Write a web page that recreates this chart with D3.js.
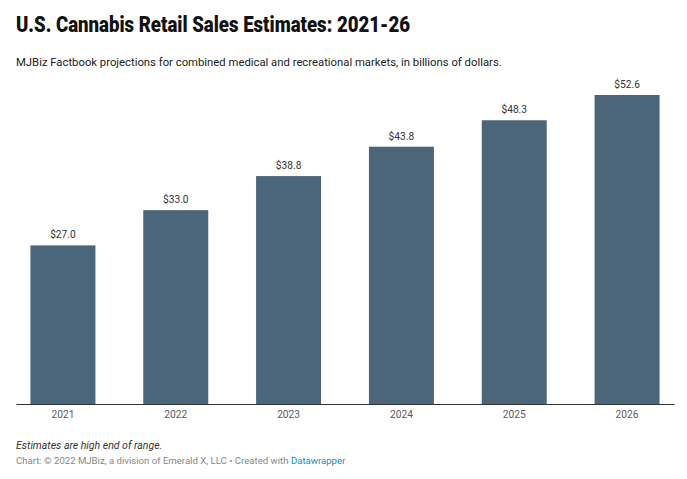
<!DOCTYPE html>
<html>
<head>
<meta charset="utf-8">
<script src="https://cdn.jsdelivr.net/npm/d3@7"></script>
<style>
  body { margin: 0; background: white; }
  svg { display: block; font-family: Roboto, "Noto Sans", sans-serif; }
</style>
</head>
<body>
<svg></svg>
<script>
var WIDTH = 687,
    HEIGHT = 479,
    MARGIN = {top: 95, left: 16, bottom: 75, right: 13},
    BAR_COLOR = "#4b667b",
    AXIS_COLOR = "#333333",
    TEXT_COLOR = "#333333",
    TICK_COLOR = "#5a5a5a";

var years = ["2021", "2022", "2023", "2024", "2025", "2026"];
var sales = [27.0, 33.0, 38.8, 43.8, 48.3, 52.6];
var valueLabels = ["$27.0", "$33.0", "$38.8", "$43.8", "$48.3", "$52.6"];

var baseline = HEIGHT - MARGIN.bottom; // 404

var x = d3.scaleBand()
    .domain(years)
    .range([MARGIN.left, WIDTH - MARGIN.right])
    .paddingInner(0.424)
    .paddingOuter(0.128);
var y = d3.scaleLinear()
    .domain([0, d3.max(sales)])
    .range([baseline, MARGIN.top]);

function drawChart() {
    var svg = d3.select("svg")
        .attr("width", WIDTH)
        .attr("height", HEIGHT);

    svg.append("text")
        .attr("x", 16)
        .attr("y", 32)
        .attr("textLength", 394)
        .attr("lengthAdjust", "spacingAndGlyphs")
        .style("font-family", "Roboto")
        .style("font-weight", 900)
        .style("font-size", "22px")
        .style("fill", "#111")
        .text("U.S. Cannabis Retail Sales Estimates: 2021-26");
    svg.append("text")
        .attr("x", 16)
        .attr("y", 66)
        .style("font-size", "11.3px")
        .style("fill", "#222")
        .text("MJBiz Factbook projections for combined medical and recreational markets, in billions of dollars.");

    var bars = svg.append("g").attr("id", "bars");
    bars.selectAll("rect")
        .data(sales)
        .enter().append("rect")
        .attr("x", function(d, i) { return x(years[i]); })
        .attr("y", function(d) { return y(d); })
        .attr("width", x.bandwidth())
        .attr("height", function(d) { return baseline - y(d); })
        .style("fill", BAR_COLOR);

    bars.selectAll("text")
        .data(sales)
        .enter().append("text")
        .attr("x", function(d, i) { return x(years[i]) + x.bandwidth() / 2; })
        .attr("y", function(d) { return y(d) - 7; })
        .style("font-size", "10.2px")
        .style("fill", TEXT_COLOR)
        .style("text-anchor", "middle")
        .text(function(d, i) { return valueLabels[i]; });

    // x axis
    var axis = svg.append("g")
        .attr("transform", "translate(0," + baseline + ")")
        .call(d3.axisBottom(x).tickSize(0).tickPadding(7));
    axis.select(".domain")
        .attr("stroke", AXIS_COLOR)
        .attr("stroke-width", 1.2);
    axis.selectAll("text")
        .style("font-family", "Roboto")
        .style("font-size", "10.2px")
        .style("fill", TICK_COLOR);

    // notes
    svg.append("text")
        .attr("x", 16)
        .attr("y", 448.5)
        .style("font-size", "10.5px")
        .style("font-style", "italic")
        .style("fill", TEXT_COLOR)
        .text("Estimates are high end of range.");
    var credit = svg.append("text")
        .attr("x", 16)
        .attr("y", 463.5)
        .style("font-size", "9.6px")
        .style("fill", "#888");
    credit.append("tspan").text("Chart: \u00a9 2022 MJBiz, a division of Emerald X, LLC \u2022 Created with ");
    credit.append("tspan").style("fill", "#1d8cb5").text("Datawrapper");
}

drawChart();
</script>
</body>
</html>
